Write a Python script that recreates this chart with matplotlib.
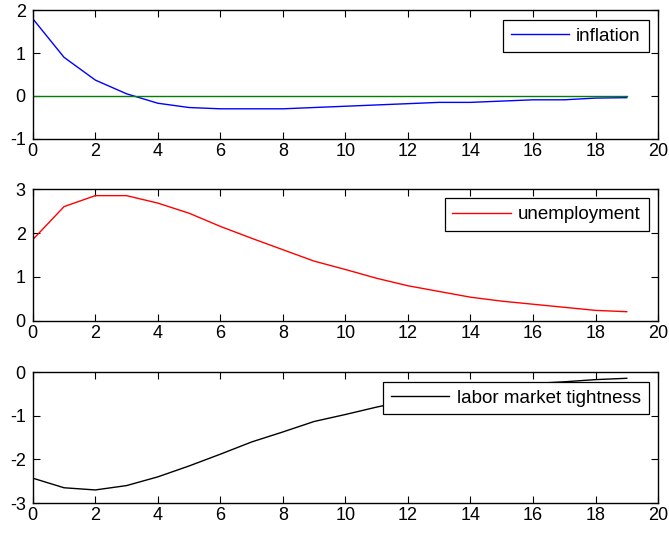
import numpy as np
import matplotlib
matplotlib.use('Agg')
import matplotlib.pyplot as plt

plt.rcParams['font.family'] = ['Liberation Sans', 'DejaVu Sans']
plt.rcParams['font.size'] = 13
plt.rcParams['axes.unicode_minus'] = False

periods = list(range(20))

inflation = [1.8, 0.9, 0.37, 0.05, -0.17, -0.27, -0.3, -0.3, -0.3, -0.27,
             -0.24, -0.21, -0.18, -0.15, -0.15, -0.12, -0.09, -0.09, -0.05, -0.04]
unemployment = [1.85, 2.6, 2.85, 2.85, 2.68, 2.45, 2.15, 1.88, 1.62, 1.36,
                1.17, 0.97, 0.8, 0.67, 0.54, 0.45, 0.38, 0.31, 0.24, 0.21]
tightness = [-2.43, -2.65, -2.7, -2.6, -2.4, -2.15, -1.88, -1.6, -1.37, -1.13,
             -0.97, -0.8, -0.65, -0.5, -0.4, -0.32, -0.26, -0.22, -0.17, -0.14]
zero_line = [0.0] * 20

fig = plt.figure(figsize=(6.69, 5.34), dpi=100)

# axes boxes (left, bottom, width, height), matlab subplot style
boxes = [[0.049, 0.740, 0.9346, 0.241],
         [0.049, 0.399, 0.9346, 0.247],
         [0.049, 0.058, 0.9346, 0.245]]

series = [(inflation, 'blue', 'inflation', (-1, 2)),
          (unemployment, 'red', 'unemployment', (0, 3)),
          (tightness, 'black', 'labor market tightness', (-3, 0))]

for box, (vals, col, lab, ylim) in zip(boxes, series):
    ax = fig.add_axes(box)
    ax.plot(periods, vals, color=col, lw=1, label=lab)
    if lab == 'inflation':
        ax.plot(periods, zero_line, color='green', lw=1)
    ax.set_xlim(0, 20)
    ax.set_ylim(*ylim)
    ax.set_xticks(range(0, 21, 2))
    ax.set_yticks(range(ylim[0], ylim[1] + 1))
    ax.tick_params(direction='in', top=True, right=True, length=5, width=0.8)
    ax.tick_params(axis='y', pad=5)
    ax.tick_params(axis='x', pad=3)
    for s in ax.spines.values():
        s.set_linewidth(1)
    leg = ax.legend(loc='upper right', fancybox=False, edgecolor='black',
                    framealpha=1, borderaxespad=0.5, handlelength=3.1,
                    handletextpad=0.4, borderpad=0.42, fontsize=13.5)
    leg.get_frame().set_linewidth(0.9)

fig.savefig('out.png', dpi=100)
